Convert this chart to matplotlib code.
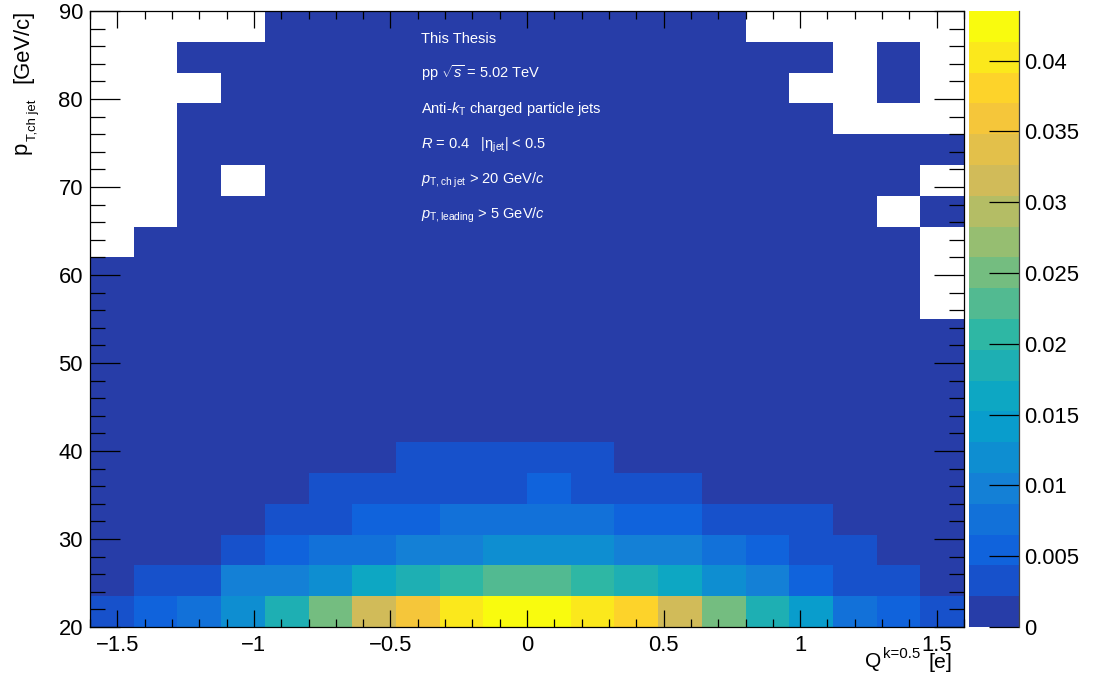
import numpy as np
import matplotlib
matplotlib.use("Agg")
import matplotlib.pyplot as plt
from matplotlib.colors import LinearSegmentedColormap, ListedColormap, BoundaryNorm
from matplotlib.ticker import MultipleLocator, FixedLocator

plt.rcParams["font.family"] = ["Liberation Sans", "DejaVu Sans"]
plt.rcParams["mathtext.fontset"] = "custom"
plt.rcParams["mathtext.rm"] = "Liberation Sans"
plt.rcParams["mathtext.it"] = "Liberation Sans:italic"
plt.rcParams["mathtext.bf"] = "Liberation Sans:bold"
plt.rcParams["mathtext.sf"] = "Liberation Sans"

# ---- binning -------------------------------------------------------------
q_edges = np.linspace(-1.6, 1.6, 21)      # jet charge Q (k = 0.5), 20 bins
pt_edges = np.linspace(20.0, 90.0, 21)    # p_T,ch jet, 20 bins of 3.5 GeV/c
z_max = 0.0435

# ---- normalised yields, one list per p_T bin (low -> high), Q from -1.6 to 1.6
pt_20_23 = [0.0034, 0.0055, 0.0077, 0.0119, 0.0186, 0.0250, 0.0314, 0.0360, 0.0398, 0.0428,
            0.0434, 0.0402, 0.0380, 0.0316, 0.0248, 0.0188, 0.0141, 0.0078, 0.0053, 0.0035]
pt_23_27 = [0.0018, 0.0030, 0.0038, 0.0090, 0.0100, 0.0120, 0.0165, 0.0185, 0.0205, 0.0225,
            0.0228, 0.0207, 0.0186, 0.0163, 0.0118, 0.0098, 0.0058, 0.0036, 0.0028, 0.0017]
pt_27_30 = [0.0014, 0.0016, 0.0019, 0.0030, 0.0052, 0.0072, 0.0080, 0.0095, 0.0102, 0.0115,
            0.0118, 0.0112, 0.0100, 0.0092, 0.0075, 0.0055, 0.0036, 0.0027, 0.0019, 0.0013]
pt_30_34 = [0.0009, 0.0011, 0.0014, 0.0019, 0.0026, 0.0036, 0.0048, 0.0060, 0.0070, 0.0076,
            0.0078, 0.0070, 0.0058, 0.0047, 0.0038, 0.0030, 0.0023, 0.0017, 0.0012, 0.0008]
pt_34_37 = [0.0006, 0.0008, 0.0010, 0.0013, 0.0018, 0.0023, 0.0029, 0.0036, 0.0040, 0.0042,
            0.0045, 0.0040, 0.0031, 0.0024, 0.0019, 0.0014, 0.0011, 0.0008, 0.0006, 0.0005]
pt_37_41 = [0.0004, 0.0005, 0.0007, 0.0009, 0.0012, 0.0016, 0.0020, 0.0023, 0.0027, 0.0030,
            0.0031, 0.0026, 0.0021, 0.0016, 0.0012, 0.0009, 0.0007, 0.0005, 0.0004, 0.0003]
pt_41_44 = [0.0003, 0.0004, 0.0005, 0.0006, 0.0008, 0.0011, 0.0013, 0.0015, 0.0017, 0.0019,
            0.0020, 0.0017, 0.0014, 0.0011, 0.0008, 0.0006, 0.0005, 0.0004, 0.0003, 0.0002]
pt_44_48 = [0.0002, 0.0003, 0.0004, 0.0005, 0.0006, 0.0008, 0.0009, 0.0011, 0.0012, 0.0013,
            0.0013, 0.0012, 0.0010, 0.0008, 0.0006, 0.0005, 0.0004, 0.0003, 0.0002, 0.0002]
pt_48_51 = [0.0002, 0.0002, 0.0003, 0.0004, 0.0005, 0.0006, 0.0007, 0.0008, 0.0008, 0.0009,
            0.0009, 0.0008, 0.0007, 0.0006, 0.0005, 0.0004, 0.0003, 0.0002, 0.0002, 0.0001]
pt_51_55 = [0.0001, 0.0002, 0.0002, 0.0003, 0.0003, 0.0004, 0.0005, 0.0005, 0.0006, 0.0006,
            0.0006, 0.0006, 0.0005, 0.0004, 0.0003, 0.0003, 0.0002, 0.0002, 0.0001, 0.0001]
pt_55_58 = [0.0001, 0.0001, 0.0002, 0.0002, 0.0003, 0.0003, 0.0003, 0.0004, 0.0004, 0.0004,
            0.0004, 0.0004, 0.0003, 0.0003, 0.0002, 0.0002, 0.0002, 0.0001, 0.0001, 0.0]
pt_58_62 = [0.0001, 0.0001, 0.0001, 0.0002, 0.0002, 0.0002, 0.0003, 0.0003, 0.0003, 0.0003,
            0.0003, 0.0003, 0.0002, 0.0002, 0.0002, 0.0001, 0.0001, 0.0001, 0.0001, 0.0]
pt_62_65 = [0.0, 0.0001, 0.0001, 0.0001, 0.0002, 0.0002, 0.0002, 0.0002, 0.0002, 0.0002,
            0.0002, 0.0002, 0.0002, 0.0002, 0.0001, 0.0001, 0.0001, 0.0001, 0.0001, 0.0]
pt_65_69 = [0.0, 0.0, 0.0001, 0.0001, 0.0001, 0.0001, 0.0002, 0.0002, 0.0002, 0.0002,
            0.0002, 0.0002, 0.0001, 0.0001, 0.0001, 0.0001, 0.0001, 0.0001, 0.0, 0.00005]
pt_69_72 = [0.0, 0.0, 0.0001, 0.0, 0.0001, 0.0001, 0.0001, 0.0001, 0.0002, 0.0002,
            0.0001, 0.0001, 0.0001, 0.0001, 0.0001, 0.0001, 0.00005, 0.00005, 0.00005, 0.0]
pt_72_76 = [0.0, 0.0, 0.00005, 0.0001, 0.0001, 0.0001, 0.0001, 0.0001, 0.0001, 0.0001,
            0.0001, 0.0001, 0.0001, 0.0001, 0.0001, 0.00005, 0.00005, 0.00005, 0.00005, 0.00005]
pt_76_79 = [0.0, 0.0, 0.00005, 0.00005, 0.0001, 0.0001, 0.0001, 0.0001, 0.0001, 0.0001,
            0.0001, 0.0001, 0.0001, 0.0001, 0.00005, 0.00005, 0.00005, 0.0, 0.0, 0.0]
pt_79_83 = [0.0, 0.0, 0.0, 0.00005, 0.00005, 0.00005, 0.0001, 0.0001, 0.0001, 0.0001,
            0.0001, 0.0001, 0.00005, 0.00005, 0.00005, 0.00005, 0.0, 0.0, 0.00005, 0.0]
pt_83_86 = [0.0, 0.0, 0.00005, 0.00005, 0.00005, 0.00005, 0.00005, 0.0001, 0.0001, 0.0001,
            0.0001, 0.00005, 0.00005, 0.00005, 0.00005, 0.00005, 0.00005, 0.0, 0.00005, 0.0]
pt_86_90 = [0.0, 0.0, 0.0, 0.0, 0.00005, 0.00005, 0.00005, 0.00005, 0.00005, 0.00005,
            0.00005, 0.00005, 0.00005, 0.00005, 0.00005, 0.0, 0.0, 0.0, 0.0, 0.0]

yield_rows = [pt_20_23, pt_23_27, pt_27_30, pt_30_34, pt_34_37, pt_37_41, pt_41_44,
              pt_44_48, pt_48_51, pt_51_55, pt_55_58, pt_58_62, pt_62_65, pt_65_69,
              pt_69_72, pt_72_76, pt_76_79, pt_79_83, pt_83_86, pt_86_90]

x_tick_values = [-1.5, -1.0, -0.5, 0.0, 0.5, 1.0, 1.5]
x_tick_labels = ["\u22121.5", "\u22121", "\u22120.5", "0", "0.5", "1", "1.5"]
y_tick_values = [20, 30, 40, 50, 60, 70, 80, 90]
z_tick_values = [0, 0.005, 0.01, 0.015, 0.02, 0.025, 0.03, 0.035, 0.04]
z_tick_labels = ["0", "0.005", "0.01", "0.015", "0.02", "0.025", "0.03", "0.035", "0.04"]

# ---- ROOT "kBird" palette sampled into 20 contour colours --------------------
stops = [0.0, 0.125, 0.25, 0.375, 0.5, 0.625, 0.75, 0.875, 1.0]
red = [0.2082, 0.0592, 0.0780, 0.0232, 0.1802, 0.5301, 0.8186, 0.9956, 0.9764]
green = [0.1664, 0.3599, 0.5041, 0.6419, 0.7178, 0.7492, 0.7328, 0.7862, 0.9832]
blue = [0.5293, 0.8684, 0.8385, 0.7914, 0.6425, 0.4662, 0.3499, 0.1968, 0.0539]
bird = LinearSegmentedColormap.from_list(
    "bird", list(zip(stops, zip(red, green, blue))), N=255)
n_levels = 20
contour_colors = [bird(int((i + 0.99) * 255 / n_levels) / 254.0) for i in range(n_levels)]
cmap = ListedColormap(contour_colors)
cmap.set_bad((1, 1, 1, 0))
cmap.set_over(contour_colors[-1])
levels = np.linspace(0.0, z_max, n_levels + 1)
norm = BoundaryNorm(levels, n_levels)

z = np.ma.masked_less_equal(np.array(yield_rows), 0.0)

W, H = 1093, 686
fig = plt.figure(figsize=(W / 100, H / 100), dpi=100)


def fx(px):
    return px / W


def fy(py):
    return 1 - py / H


ax = fig.add_axes([fx(90), fy(627), (964 - 90) / W, (627 - 11) / H])
mesh = ax.pcolormesh(q_edges, pt_edges, z, cmap=cmap, norm=norm,
                     antialiased=False, linewidth=0, rasterized=True)
ax.set_xlim(-1.6, 1.6)
ax.set_ylim(20, 90)

tick_fs = 15.8
ax.xaxis.set_major_locator(FixedLocator(x_tick_values))
ax.set_xticklabels(x_tick_labels)
ax.xaxis.set_minor_locator(MultipleLocator(0.1))
ax.yaxis.set_major_locator(FixedLocator(y_tick_values))
ax.yaxis.set_minor_locator(MultipleLocator(2))
ax.tick_params(axis="x", which="major", direction="in", length=12.2, width=0.9,
               top=True, bottom=True, labelsize=tick_fs, pad=5.8)
ax.tick_params(axis="x", which="minor", direction="in", length=6.0, width=0.9,
               top=True, bottom=True)
ax.tick_params(axis="y", which="major", direction="in", length=21.6, width=0.9,
               left=True, right=True, labelsize=tick_fs, pad=5)
ax.tick_params(axis="y", which="minor", direction="in", length=10.8, width=0.9,
               left=True, right=True)
for s in ax.spines.values():
    s.set_linewidth(0.9)

# x-axis title: Q^{k=0.5} [e]
fig.text(fx(865), fy(667), "Q", ha="left", va="baseline", fontsize=15)
fig.text(fx(883), fy(658), "k=0.5", ha="left", va="baseline", fontsize=10.8)
fig.text(fx(928), fy(668), "[e]", ha="left", va="baseline", fontsize=15.4)

# y-axis title: p_{T,ch jet} [GeV/c], written bottom-to-top
rot = dict(rotation=90, rotation_mode="anchor", ha="left", va="baseline")
fig.text(fx(27), fy(154), "p", fontsize=15.8, **rot)
fig.text(fx(36), fy(141), "T,ch jet", fontsize=9.4, **rot)
fig.text(fx(28), fy(83), "[GeV/c]", fontsize=15.8, **rot)

# colour scale
cax = fig.add_axes([fx(969), fy(627), 50 / W, (627 - 11) / H])
cb = fig.colorbar(mesh, cax=cax, ticks=z_tick_values)
cb.outline.set_visible(False)
cb.set_ticklabels(z_tick_labels)
cax.minorticks_off()
cax.tick_params(axis="y", which="major", direction="in", length=21.6, width=0.9,
                labelsize=tick_fs, pad=3.6, right=True, left=False)
cax.plot([1, 1], [0, 1], transform=cax.transAxes, color="#444444", lw=0.9,
         clip_on=False)

# analysis labels
info_lines = [
    "This Thesis",
    r"pp $\sqrt{s}$ = 5.02 TeV",
    r"Anti-$k_{\mathrm{T}}$ charged particle jets",
    r"$R$ = 0.4   |$\mathrm{\eta}_{\mathrm{jet}}$| < 0.5",
    r"$p_{\mathrm{T,ch\ jet}}$ > 20 GeV/$c$",
    r"$p_{\mathrm{T,leading}}$ > 5 GeV/$c$",
]
baselines = [42.7, 78.3, 113.3, 149.0, 184.0, 219.0]
for txt, yb in zip(info_lines, baselines):
    fig.text(fx(421), fy(yb), txt, color="white", fontsize=10.5,
             ha="left", va="baseline")

fig.savefig("out.png", dpi=100)
